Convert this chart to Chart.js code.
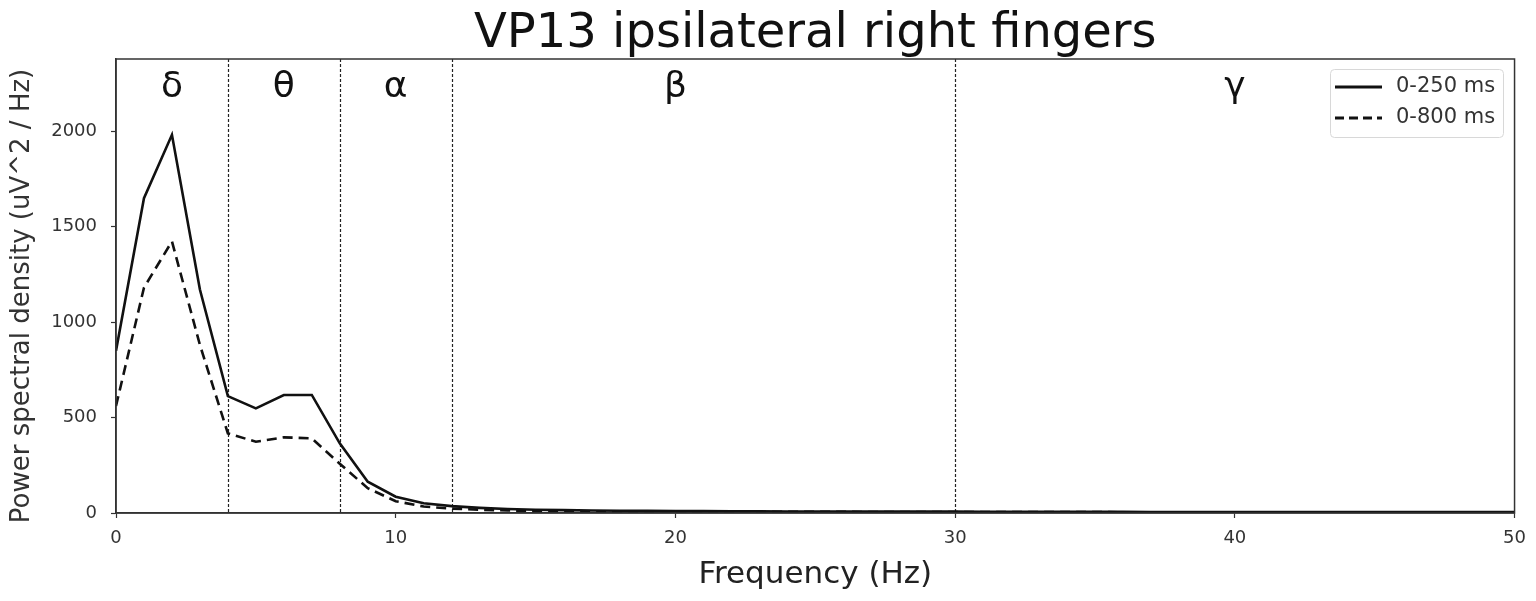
<!DOCTYPE html>
<html>
<head>
<meta charset="utf-8">
<script src="https://cdn.jsdelivr.net/npm/chart.js@4.4.1/dist/chart.umd.min.js"></script>
<style>
html,body{margin:0;padding:0;background:#fff;}
#wrap{width:1536px;height:601px;position:relative;}
</style>
</head>
<body>
<div id="wrap"><canvas id="c" width="1536" height="601"></canvas></div>
<script>
const frequencies = [0,1,2,3,4,5,6,7,8,9,10,11,12,13,14,15,16,17,18,19,20,21,22,23,24,25,26,27,28,29,30,31,32,33,34,35,36,37,38,39,40,41,42,43,44,45,46,47,48,49,50];
const psd250 = [850,1648,1980,1170,612,548,618,618,365,164,85,51,36,27,21,17,15,13,12,11,10,10,9,9,8,8,8,7,7,7,7,6,6,6,6,6,6,5,5,5,5,5,5,5,5,5,5,5,5,5,5];
const psd800 = [560,1180,1422,880,417,373,396,391,258,130,62,34,23,17,13,11,10,9,8,8,7,7,7,6,6,6,6,5,5,5,5,5,5,5,5,5,4,4,4,4,4,4,4,4,4,4,4,4,4,4,4];
const seriesNames = ["0-250 ms","0-800 ms"];
const bandEdges = [4,8,12,30];
const bandNames = ["δ","θ","α","β","γ"];
const bandCenters = [2,6,10,20,40];
const xTicks = [0,10,20,30,40,50];
const yTicks = [0,500,1000,1500,2000];
const titleText = "VP13 ipsilateral right fingers";
const xTitle = "Frequency (Hz)";
const yTitle = "Power spectral density (uV^2 / Hz)";

const FONT = "'DejaVu Sans', sans-serif";

const overlay = {
  id:'overlay',
  beforeDatasetsDraw(chart){
    const {ctx, chartArea:a, scales:{x}} = chart;
    ctx.save();
    ctx.strokeStyle = '#222';
    ctx.lineWidth = 1.2;
    ctx.setLineDash([3,2]);
    bandEdges.forEach(v=>{
      const px = Math.round(x.getPixelForValue(v))+0.5;
      ctx.beginPath(); ctx.moveTo(px,a.top); ctx.lineTo(px,a.bottom); ctx.stroke();
    });
    ctx.restore();
  },
  afterDraw(chart){
    const {ctx, chartArea:a, scales:{x}} = chart;
    ctx.save();
    ctx.strokeStyle = '#333';
    ctx.lineWidth = 1.5;
    ctx.strokeRect(a.left, a.top, a.right-a.left, a.bottom-a.top);
    // band labels
    ctx.fillStyle = '#111';
    ctx.font = "36px " + FONT;
    ctx.textAlign = 'center';
    ctx.textBaseline = 'alphabetic';
    bandNames.forEach((n,i)=>{
      ctx.fillText(n, x.getPixelForValue(bandCenters[i]), 97);
    });
    // title
    ctx.font = "48px " + FONT;
    ctx.fillText(titleText, (a.left+a.right)/2, 47);
    // x title
    ctx.textBaseline = 'middle';
    ctx.font = "31px " + FONT;
    ctx.fillStyle = '#222';
    ctx.fillText(xTitle, (a.left+a.right)/2, 575);
    // y title
    ctx.save();
    ctx.translate(22, 296);
    ctx.rotate(-Math.PI/2);
    ctx.font = "26px " + FONT;
    ctx.fillStyle = '#333';
    ctx.fillText(yTitle, 0, 0);
    ctx.restore();
    // legend
    const lx = 1330, ly = 69, lw = 173, lh = 68;
    ctx.fillStyle = 'rgba(255,255,255,0.9)';
    ctx.strokeStyle = '#d8d8d8';
    ctx.lineWidth = 1;
    ctx.setLineDash([]);
    ctx.beginPath();
    if (ctx.roundRect) ctx.roundRect(lx+0.5, ly+0.5, lw, lh, 4); else ctx.rect(lx+0.5, ly+0.5, lw, lh);
    ctx.fill(); ctx.stroke();
    const rows = [{y:87, dash:[]},{y:118, dash:[9,5]}];
    rows.forEach((r,i)=>{
      ctx.strokeStyle = '#111';
      ctx.lineWidth = 3;
      ctx.setLineDash(r.dash);
      ctx.beginPath(); ctx.moveTo(1335, r.y); ctx.lineTo(1382, r.y); ctx.stroke();
      ctx.setLineDash([]);
      ctx.fillStyle = '#333';
      ctx.font = "21px " + FONT;
      ctx.textAlign = 'left';
      ctx.textBaseline = 'middle';
      ctx.fillText(seriesNames[i], 1396, r.y);
    });
    ctx.restore();
  }
};

new Chart(document.getElementById('c'), {
  type:'line',
  data:{
    labels: frequencies,
    datasets:[
      {label:seriesNames[0], data: frequencies.map((f,i)=>({x:f,y:psd250[i]})), borderColor:'#111', borderWidth:2.6, pointRadius:0, tension:0, fill:false},
      {label:seriesNames[1], data: frequencies.map((f,i)=>({x:f,y:psd800[i]})), borderColor:'#111', borderWidth:2.6, borderDash:[10,6], pointRadius:0, tension:0, fill:false}
    ]
  },
  options:{
    responsive:false,
    animation:false,
    events:[],
    layout:{padding:{left:0, top:59, right:21, bottom:0}},
    plugins:{legend:{display:false}, title:{display:false}, tooltip:{enabled:false}},
    scales:{
      x:{
        type:'linear', min:0, max:50,
        afterBuildTicks(s){ s.ticks = xTicks.map(v=>({value:v})); },
        afterFit(s){ s.height = 88; },
        grid:{drawOnChartArea:false, drawTicks:true, tickLength:5, color:'#333', tickWidth:1.2},
        border:{display:true, color:'#333', width:1.5},
        ticks:{font:{family:FONT, size:18}, color:'#333', padding:10, maxRotation:0, callback:v=>String(v)}
      },
      y:{
        type:'linear', min:0, max:2377,
        afterBuildTicks(s){ s.ticks = yTicks.map(v=>({value:v})); },
        afterFit(s){ s.width = 116; },
        grid:{drawOnChartArea:false, drawTicks:true, tickLength:5, color:'#333', tickWidth:1.2},
        border:{display:true, color:'#333', width:1.5},
        ticks:{font:{family:FONT, size:18}, color:'#333', padding:14, callback:v=>String(v)}
      }
    }
  },
  plugins:[overlay]
});
</script>
</body>
</html>
